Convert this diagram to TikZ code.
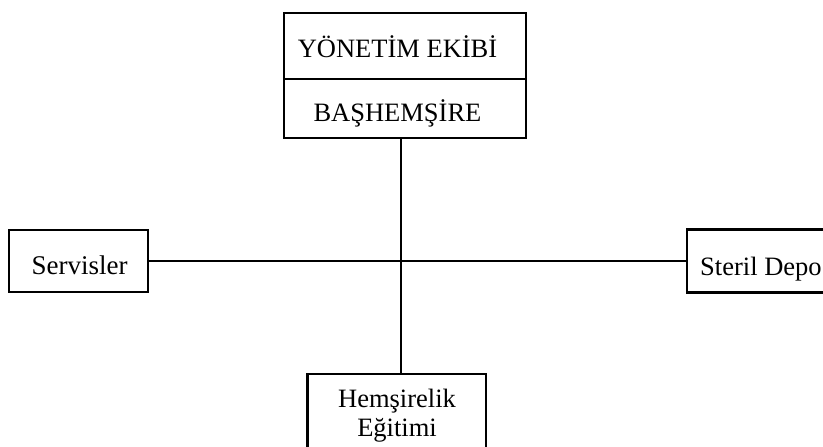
\documentclass[tikz,border=0pt]{standalone}
\usepackage{fontspec}
\setmainfont{Liberation Serif}
\begin{document}
\begin{tikzpicture}[x=1pt,y=-1pt,
  box/.style={draw=black, line width=2.8pt, rectangle, outer sep=0pt, inner sep=0pt},
  lbl/.style={inner sep=0pt, anchor=base, font=\fontsize{26.5}{29}\selectfont},
  link/.style={draw=black, line width=2.3pt}]
\useasboundingbox (0,0) rectangle (823,447);
\fill[white] (0,0) rectangle (823,447);

% top: management team over head nurse
\node[box, minimum width=242pt, minimum height=66pt] (mgmt) at (405,46) {};
\node[box, minimum width=242pt, minimum height=59pt] (head) at (405,108.5) {};
\node[lbl] (mgmtT) at (397.5,57) {YÖNETİM EKİBİ};
\node[lbl] (headT) at (397.5,121.5) {BAŞHEMŞİRE};

% side units
\node[box, minimum width=139pt, minimum height=62pt] (serv) at (78.5,261) {};
\node[lbl, font=\fontsize{27}{29}\selectfont] (servT) at (79.5,274) {Servisler};
\node[box, minimum width=153pt, minimum height=63pt] (steril) at (763.5,261) {};
\node[lbl, anchor=base west] (sterilT) at (700,275) {Steril Depo};

% bottom unit
\node[box, minimum width=178.5pt, minimum height=96pt] (edu) at (396.75,422) {};
\node[lbl] (eduT1) at (397,407) {Hemşirelik};
\node[lbl] (eduT2) at (397,436) {Eğitimi};

% connectors meeting at the hub
\coordinate (hub) at (401,261);
\draw[link] (hub |- head.south) -- (hub |- edu.north);
\draw[link] (serv.east) -- (steril.west);
\end{tikzpicture}
\end{document}
